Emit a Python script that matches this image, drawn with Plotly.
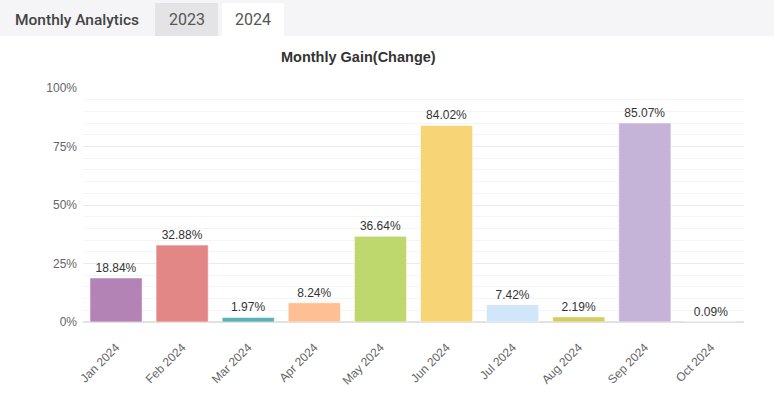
import plotly.graph_objects as go

months = ['Jan 2024', 'Feb 2024', 'Mar 2024', 'Apr 2024', 'May 2024',
          'Jun 2024', 'Jul 2024', 'Aug 2024', 'Sep 2024', 'Oct 2024']
gains = [18.84, 32.88, 1.97, 8.24, 36.64, 84.02, 7.42, 2.19, 85.07, 0.09]
colors = ['#b383b5', '#e38686', '#5bb1b5', '#ffbf94', '#bfd86d',
          '#f7d576', '#d2e6fa', '#d5cc66', '#c6b3d8', '#9ecae1']
y_ticks = [0, 25, 50, 75, 100]
y_labels = ['0%', '25%', '50%', '75%', '100%']

# plot area in pixels, used to place the header in paper coordinates
L, R, T, B = 83, 30, 88, 78
W, H = 774, 400
pw, ph = W - L - R, H - T - B


def px(x):
    return (x - L) / pw


def py(y):
    return (H - B - y) / ph


trace = go.Bar(
    x=months, y=gains,
    marker=dict(color=colors, line=dict(color='rgba(255,255,255,0.6)', width=1)),
    text=[f'{v:.2f}%' for v in gains],
    textposition='outside',
    textfont=dict(size=12, color='#333333', family='Liberation Sans, Arial'),
    cliponaxis=False,
    hovertemplate='%{x}: %{y:.2f}%<extra></extra>',
)

fig = go.Figure(data=[trace])

fig.update_layout(
    width=W, height=H,
    margin=dict(l=L, r=R, t=T, b=B),
    paper_bgcolor='white', plot_bgcolor='white',
    bargap=0.21,
    showlegend=False,
    font=dict(family='Liberation Sans, Arial', color='#666666', size=12),
    title=dict(text='<b>Monthly Gain(Change)</b>', x=px(389), xanchor='center',
               y=1 - 57 / H, yanchor='middle',
               font=dict(size=14.5, color='#333333', family='Liberation Sans, Arial')),
    xaxis=dict(tickangle=-45, showgrid=False, showline=False, ticks='',
               ticklabelstandoff=15,
               tickfont=dict(size=12, color='#666666')),
    yaxis=dict(range=[0, 100], tickvals=y_ticks, ticktext=y_labels,
               showgrid=True, gridcolor='#ebebeb', gridwidth=1,
               zeroline=True, zerolinecolor='#e2e2e2', zerolinewidth=2,
               showline=False, ticks='', ticklen=0, ticklabelstandoff=5,
               tickfont=dict(size=12, color='#666666'),
               minor=dict(dtick=5, showgrid=True, gridcolor='#f5f5f5', gridwidth=1)),
    shapes=[
        dict(type='rect', xref='paper', yref='paper', x0=px(0), x1=px(W),
             y0=py(36), y1=py(0), fillcolor='#f5f5f7', line=dict(width=0), layer='below'),
        dict(type='rect', xref='paper', yref='paper', x0=px(155), x1=px(218),
             y0=py(36), y1=py(3), fillcolor='#e4e4e6', line=dict(width=0), layer='below'),
        dict(type='rect', xref='paper', yref='paper', x0=px(222), x1=px(284),
             y0=py(36), y1=py(3), fillcolor='#ffffff', line=dict(width=0), layer='below'),
    ],
    annotations=[
        dict(text='Monthly Analytics', xref='paper', yref='paper',
             x=px(13), y=py(20), xanchor='left', yanchor='middle', showarrow=False,
             font=dict(size=15.5, color='#444444', family='Roboto', weight=500)),
        dict(text='2023', xref='paper', yref='paper',
             x=px(186.5), y=py(20), xanchor='center', yanchor='middle', showarrow=False,
             font=dict(size=16, color='#555555', family='Roboto')),
        dict(text='2024', xref='paper', yref='paper',
             x=px(253), y=py(20), xanchor='center', yanchor='middle', showarrow=False,
             font=dict(size=16, color='#555555', family='Roboto')),
    ],
)

fig.write_html('out.html', config={'displayModeBar': False},
               post_script="document.body.style.margin='0';")
